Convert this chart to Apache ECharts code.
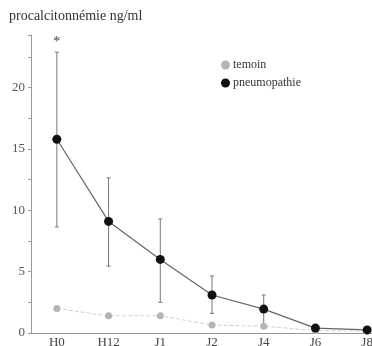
<!DOCTYPE html>
<html>
<head>
<meta charset="utf-8">
<script src="https://cdn.jsdelivr.net/npm/echarts@6/dist/echarts.min.js"></script>
<style>
  html,body{margin:0;padding:0;background:#fff;}
  #chart{width:372px;height:346px;}
</style>
</head>
<body>
<div id="chart"></div>
<script>
// temps de prélèvement
var categories = ['H0', 'H12', 'J1', 'J2', 'J4', 'J6', 'J8'];
// moyennes
var temoin = [2.0, 1.4, 1.4, 0.65, 0.55, 0.2, 0.15];
var pneumo = [15.8, 9.1, 6.0, 3.1, 1.95, 0.4, 0.25];
// barres d'erreur pneumopathie
var pneumoLow = [8.65, 5.45, 2.5, 1.6, 0.55, 0.4, 0.25];
var pneumoHigh = [22.9, 12.65, 9.3, 4.65, 3.1, 0.4, 0.25];
var signif = ['*', '', '', '', '', '', ''];

var serif = 'Liberation Serif';

var errData = categories.map(function (c, i) {
  return [i, pneumoLow[i], pneumoHigh[i], signif[i]];
});

var chart = echarts.init(document.getElementById('chart'));
chart.setOption({
  animation: false,
  backgroundColor: '#fff',
  textStyle: { fontFamily: serif },
  title: {
    text: 'procalcitonnémie ng/ml',
    left: 4,
    top: 4,
    textStyle: { fontFamily: serif, fontSize: 14, fontWeight: 'normal', color: '#333' }
  },
  legend: {
    orient: 'vertical',
    left: 216,
    top: 54,
    itemGap: 6,
    itemWidth: 9,
    itemHeight: 9,
    icon: 'circle',
    data: ['temoin', 'pneumopathie'],
    textStyle: { fontFamily: serif, fontSize: 12, color: '#333', padding: [0, 0, 0, -2] }
  },
  grid: { left: 31, top: 35, width: 362, height: 298, outerBoundsMode: 'none', containLabel: false },
  xAxis: {
    type: 'category',
    data: categories,
    boundaryGap: true,
    axisLine: { lineStyle: { color: '#999' } },
    axisTick: { show: false },
    axisLabel: { fontFamily: serif, fontSize: 13, color: '#444', margin: 3 }
  },
  yAxis: {
    type: 'value',
    min: 0,
    max: 24.3,
    interval: 2.5,
    splitLine: { show: false },
    axisLine: { show: true, lineStyle: { color: '#999' } },
    axisTick: { show: true, length: 3, lineStyle: { color: '#999' } },
    axisLabel: {
      fontFamily: serif, fontSize: 13, color: '#555', margin: 6,
      formatter: function (v) { return v % 5 === 0 ? String(v) : ''; }
    }
  },
  series: [
    {
      name: 'errbar',
      type: 'custom',
      data: errData,
      z: 1,
      renderItem: function (params, api) {
        var x = api.value(0);
        var lo = api.coord([x, api.value(1)]);
        var hi = api.coord([x, api.value(2)]);
        var cap = 2;
        var st = { stroke: '#777', lineWidth: 1 };
        var children = [
          { type: 'line', shape: { x1: lo[0], y1: lo[1], x2: hi[0], y2: hi[1] }, style: st },
          { type: 'line', shape: { x1: lo[0] - cap, y1: lo[1], x2: lo[0] + cap, y2: lo[1] }, style: st },
          { type: 'line', shape: { x1: hi[0] - cap, y1: hi[1], x2: hi[0] + cap, y2: hi[1] }, style: st }
        ];
        var s = errData[params.dataIndex][3];
        if (s) {
          children.push({
            type: 'text',
            style: { text: s, x: hi[0], y: hi[1] - 3, align: 'center', verticalAlign: 'bottom',
                     font: '14px ' + serif, fill: '#444' }
          });
        }
        return { type: 'group', children: children };
      }
    },
    {
      name: 'temoin',
      type: 'line',
      data: temoin,
      symbol: 'circle',
      symbolSize: 7,
      z: 2,
      itemStyle: { color: '#b5b5b5' },
      lineStyle: { color: '#d0d0d0', width: 1, type: 'dashed' }
    },
    {
      name: 'pneumopathie',
      type: 'line',
      data: pneumo,
      symbol: 'circle',
      symbolSize: 9,
      z: 3,
      itemStyle: { color: '#111' },
      lineStyle: { color: '#666', width: 1.2 }
    }
  ]
});
</script>
</body>
</html>
